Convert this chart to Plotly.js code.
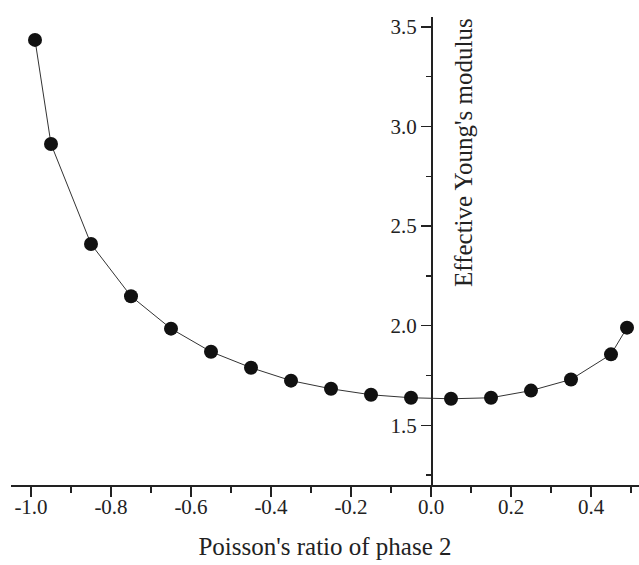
<!DOCTYPE html>
<html><head><meta charset="utf-8">
<script src="https://cdn.plot.ly/plotly-3.0.1.min.js"></script>
<style>html,body{margin:0;padding:0;background:#fff;}#chart{width:639px;height:565px;}</style>
</head><body><div id="chart"></div>
<script>
const poissonRatio = [-0.99, -0.95, -0.85, -0.75, -0.65, -0.55, -0.45, -0.35, -0.25, -0.15, -0.05, 0.05, 0.15, 0.25, 0.35, 0.45, 0.49];
const youngsModulus = [3.435, 2.912, 2.41, 2.148, 1.985, 1.869, 1.789, 1.724, 1.683, 1.653, 1.638, 1.633, 1.638, 1.674, 1.73, 1.856, 1.99];
const xTickVals = [-1.0, -0.8, -0.6, -0.4, -0.2, 0.0, 0.2, 0.4];
const xTickText = ["-1.0", "-0.8", "-0.6", "-0.4", "-0.2", "0.0", "0.2", "0.4"];
const yTickVals = [1.5, 2.0, 2.5, 3.0, 3.5];
const yTickText = ["1.5", "2.0", "2.5", "3.0", "3.5"];
const xTitle = "Poisson's ratio of phase 2";
const yTitle = "Effective Young's modulus";

const xRange = [-1.05, 0.52];
const yRange = [1.2, 3.55];
const font = "Liberation Serif, Times New Roman, serif";
const ink = "#222";

const trace = {
  x: poissonRatio, y: youngsModulus, type: 'scatter', mode: 'lines+markers',
  line: {color: '#333', width: 1},
  marker: {color: '#111', size: 14},
  cliponaxis: false, showlegend: false
};

const layout = {
  width: 639, height: 565,
  margin: {l: 11, r: 0, t: 17, b: 80},
  paper_bgcolor: '#fff', plot_bgcolor: '#fff',
  font: {family: font, color: ink, size: 21},
  xaxis: {
    range: xRange, showgrid: false, zeroline: false,
    showline: true, linecolor: ink, linewidth: 1.5,
    ticks: 'outside', ticklen: 10, tickwidth: 1.3, tickcolor: ink,
    tickvals: xTickVals, ticktext: xTickText, ticklabelstandoff: -8,
    minor: {dtick: 0.1, tick0: 0.1, ticks: 'outside', ticklen: 6, tickwidth: 1.3, tickcolor: ink, showgrid: false},
    tickfont: {family: font, size: 21, color: ink},
    title: {text: xTitle, font: {family: font, size: 25, color: ink}, standoff: 20}
  },
  yaxis: {
    range: yRange, showgrid: false, zeroline: false,
    anchor: 'free', position: (0 - xRange[0]) / (xRange[1] - xRange[0]),
    showline: true, linecolor: ink, linewidth: 1.5,
    ticks: 'outside', ticklen: 10, tickwidth: 1.3, tickcolor: ink,
    tickvals: yTickVals, ticktext: yTickText,
    minor: {dtick: 0.25, tick0: 1.25, ticks: 'outside', ticklen: 5, tickwidth: 1.3, tickcolor: ink, showgrid: false},
    tickfont: {family: font, size: 21, color: ink}
  },
  annotations: [{
    text: yTitle, x: 0, xref: 'x', y: 3.55, yref: 'y',
    xanchor: 'left', yanchor: 'top', xshift: 17, yshift: 1,
    textangle: -90, showarrow: false,
    font: {family: font, size: 25, color: ink}
  }]
};

Plotly.newPlot('chart', [trace], layout, {displayModeBar: false, staticPlot: true});
</script></body></html>
